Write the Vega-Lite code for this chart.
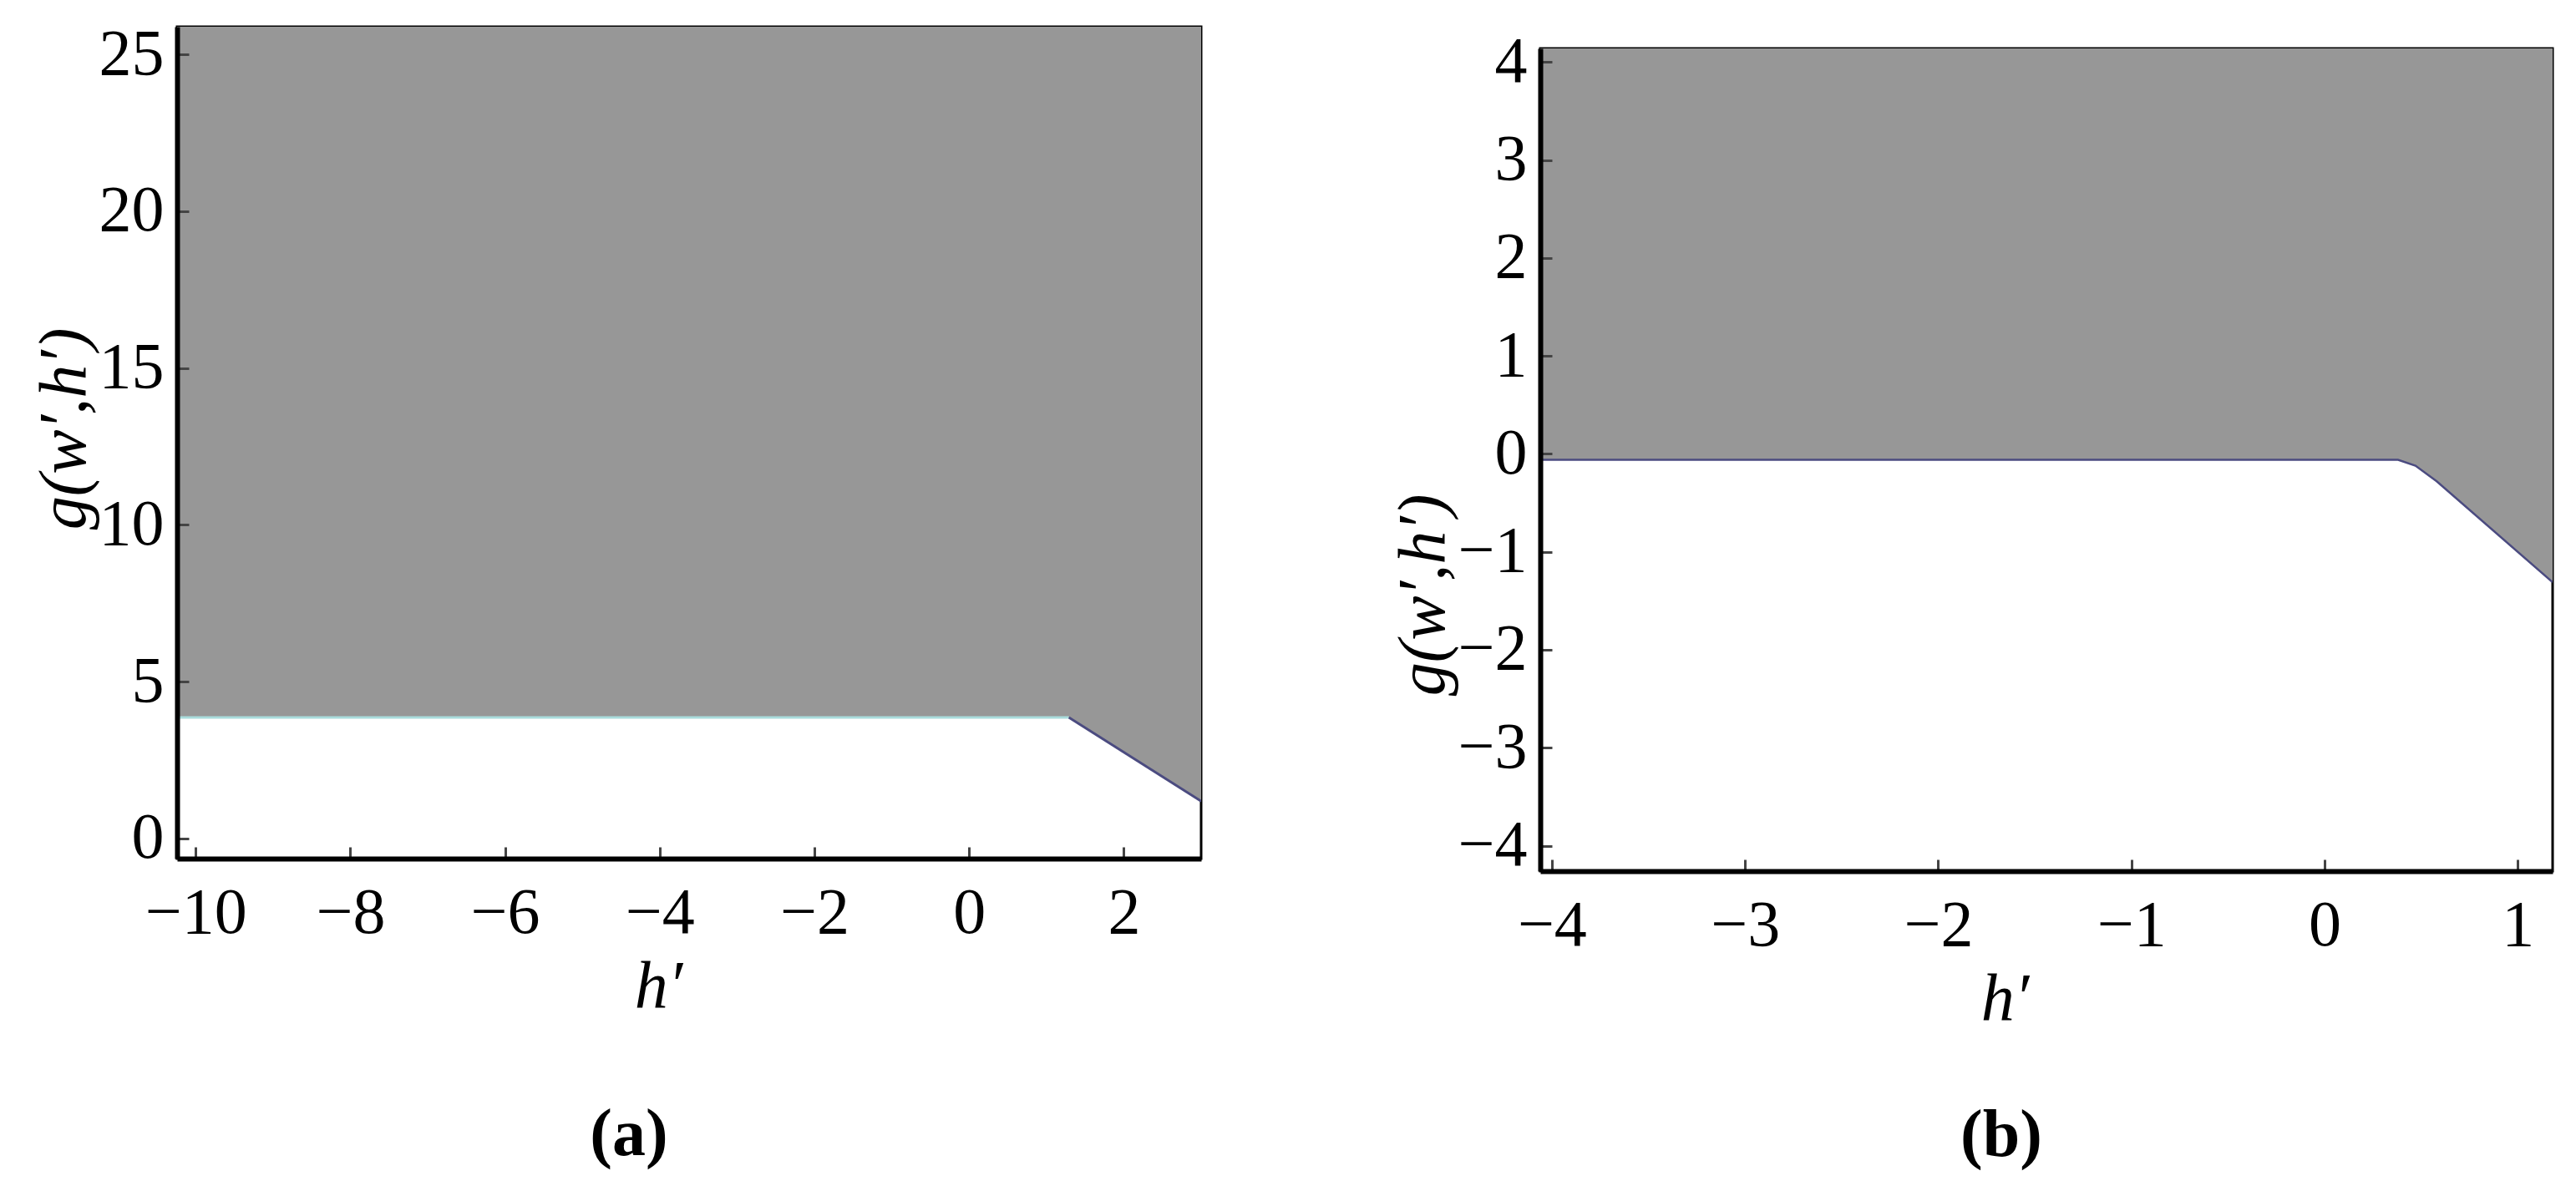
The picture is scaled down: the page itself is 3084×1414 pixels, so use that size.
{
  "$schema": "https://vega.github.io/schema/vega-lite/v6.json",
  "background": "white",
  "padding": {"left": 35, "top": 24, "right": 25, "bottom": 10},
  "spacing": 222,
  "config": {
    "view": {"stroke": "#000", "strokeWidth": 3},
    "font": "Liberation Serif",
    "axis": {
      "labelFont": "Liberation Serif", "labelFontSize": 78, "labelColor": "#000", "labelLimit": 0, "format": "d",
      "titleFont": "Liberation Serif", "titleFontSize": 80, "titleFontStyle": "italic", "titleFontWeight": "normal", "titleColor": "#000",
      "grid": false, "domain": true, "domainColor": "#000", "domainWidth": 6,
      "ticks": true, "tickColor": "#444", "tickWidth": 3, "tickSize": -14,
      "labelFlush": false, "labelOverlap": false
    },
    "axisLeft": {"labelPadding": 30, "titlePadding": 0},
    "axisBottom": {"labelPadding": 40, "titlePadding": 10},
    "title": {"font": "Liberation Serif", "fontSize": 80, "fontWeight": "bold", "color": "#000", "orient": "bottom", "anchor": "middle"}
  },
  "datasets": {
    "a": [
      {"h": -10.24, "g": 3.86, "part": "flat"},
      {"h": 1.29, "g": 3.86, "part": "flat"},
      {"h": 1.29, "g": 3.86, "part": "slope"},
      {"h": 3.0, "g": 1.19, "part": "slope"}
    ],
    "b": [
      {"h": -4.06, "g": -0.06, "part": "flat"},
      {"h": 0.38, "g": -0.06, "part": "flat"},
      {"h": 0.38, "g": -0.06, "part": "slope"},
      {"h": 0.47, "g": -0.12, "part": "slope"},
      {"h": 0.58, "g": -0.28, "part": "slope"},
      {"h": 1.18, "g": -1.31, "part": "slope"}
    ]
  },
  "hconcat": [
    {
      "width": 1226, "height": 996,
      "title": {"text": "(a)", "dx": -72, "offset": 99},
      "layer": [
        {
          "data": {"name": "a"},
          "mark": {"type": "area", "color": "#979797", "clip": true},
          "encoding": {
            "x": {"field": "h", "type": "quantitative", "scale": {"domain": [-10.24, 3.0], "nice": false, "zero": false},
                  "axis": {"values": [-10, -8, -6, -4, -2, 0, 2], "title": "h′", "titleX": 576, "zindex": 1}},
            "y": {"field": "g", "type": "quantitative", "scale": {"domain": [-0.64, 25.88], "nice": false, "zero": false},
                  "axis": {"values": [0, 5, 10, 15, 20, 25], "title": "g(w′,h′)", "titleY": 481, "zindex": 1}},
            "y2": {"datum": 30}
          }
        },
        {
          "data": {"name": "a"},
          "mark": {"type": "line", "clip": true, "strokeWidth": 3},
          "encoding": {
            "x": {"field": "h", "type": "quantitative"},
            "y": {"field": "g", "type": "quantitative"},
            "color": {"field": "part", "type": "nominal", "scale": {"domain": ["flat", "slope"], "range": ["#a9dcdc", "#4b4b80"]}, "legend": null}
          }
        }
      ]
    },
    {
      "spacing": 0,
      "vconcat": [
        {
          "width": 10, "height": 1,
          "view": {"stroke": null, "fill": null},
          "data": {"values": []},
          "mark": "point"
        },
        {
          "width": 1212, "height": 985,
          "title": {"text": "(b)", "dx": -54, "offset": 85},
          "layer": [
            {
              "data": {"name": "b"},
              "mark": {"type": "area", "color": "#979797", "clip": true},
              "encoding": {
                "x": {"field": "h", "type": "quantitative", "scale": {"domain": [-4.06, 1.18], "nice": false, "zero": false},
                      "axis": {"values": [-4, -3, -2, -1, 0, 1], "title": "h′", "titleX": 556, "zindex": 1}},
                "y": {"field": "g", "type": "quantitative", "scale": {"domain": [-4.26, 4.14], "nice": false, "zero": false},
                      "axis": {"values": [-4, -3, -2, -1, 0, 1, 2, 3, 4], "title": "g(w′,h′)", "titleY": 654, "zindex": 1}},
                "y2": {"datum": 5}
              }
            },
            {
              "data": {"name": "b"},
              "mark": {"type": "line", "clip": true, "strokeWidth": 2.5, "color": "#4b4b80"},
              "encoding": {
                "x": {"field": "h", "type": "quantitative"},
                "y": {"field": "g", "type": "quantitative"}
              }
            }
          ]
        }
      ]
    }
  ]
}
